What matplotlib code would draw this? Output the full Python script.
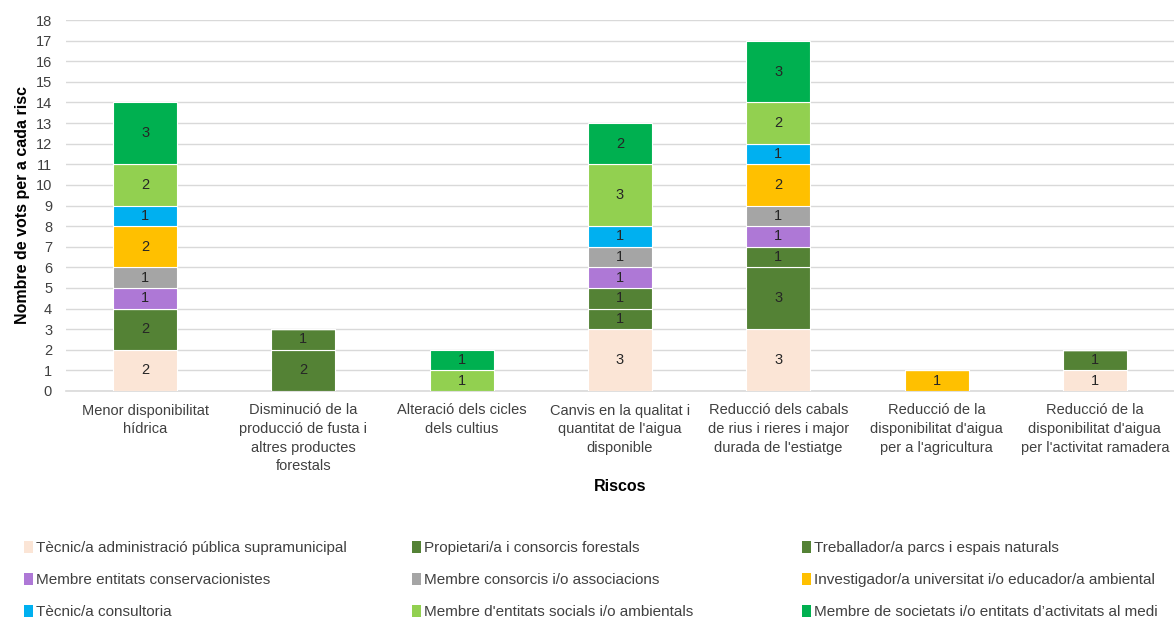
import numpy as np
import matplotlib
matplotlib.use("Agg")
from matplotlib import pyplot as plt
from matplotlib.patches import Patch

plt.rcParams['font.family'] = ['Liberation Sans', 'DejaVu Sans']

# categories (risks)
riscos = ["Menor disponibilitat\nhídrica",
          "Disminució de la\nproducció de fusta i\naltres productes\nforestals",
          "Alteració dels cicles\ndels cultius",
          "Canvis en la qualitat i\nquantitat de l'aigua\ndisponible",
          "Reducció dels cabals\nde rius i rieres i major\ndurada de l'estiatge",
          "Reducció de la\ndisponibilitat d'aigua\nper a l'agricultura",
          "Reducció de la\ndisponibilitat d'aigua\nper l'activitat ramadera"]

# series (stack order bottom -> top)
grups = ["Tècnic/a administració pública supramunicipal",
         "Propietari/a i consorcis forestals",
         "Treballador/a parcs i espais naturals",
         "Membre entitats conservacionistes",
         "Membre consorcis i/o associacions",
         "Investigador/a universitat i/o educador/a ambiental",
         "Tècnic/a consultoria",
         "Membre d'entitats socials i/o ambientals",
         "Membre de societats i/o entitats d\u2019activitats al medi"]

tecnic_adm   = [2, 0, 0, 3, 3, 0, 1]
propietari   = [2, 2, 0, 1, 3, 0, 1]
treballador  = [0, 1, 0, 1, 1, 0, 0]
conservacio  = [1, 0, 0, 1, 1, 0, 0]
consorcis    = [1, 0, 0, 1, 1, 0, 0]
investigador = [2, 0, 0, 0, 2, 1, 0]
consultoria  = [1, 0, 0, 1, 1, 0, 0]
socials      = [2, 0, 1, 3, 2, 0, 0]
societats    = [3, 0, 1, 2, 3, 0, 0]

series = [tecnic_adm, propietari, treballador, conservacio, consorcis,
          investigador, consultoria, socials, societats]
colors = ["#FBE5D6", "#548235", "#548235", "#AE78D6", "#A5A5A5",
          "#FFC000", "#00B0F0", "#92D050", "#00B050"]

fig = plt.figure(figsize=(11.74, 6.21), dpi=100)
ax = fig.add_axes([66/1174, 230/621, 1108/1174, 371/621])

x = np.arange(len(riscos))
bottom = np.zeros(len(riscos))
for vals, col in zip(series, colors):
    vals = np.array(vals, dtype=float)
    bars = ax.bar(x, vals, 0.405, bottom=bottom, color=col,
                  edgecolor='white', linewidth=0.8, zorder=3)
    for b, v, y0 in zip(bars, vals, bottom):
        if v > 0:
            ax.text(b.get_x() + b.get_width()/2, y0 + v/2, "%d" % v,
                    ha='center', va='center', fontsize=10.5, color='#262626',
                    zorder=4)
    bottom += vals

ax.set_xlim(-0.5, len(riscos) - 0.5)
ax.set_ylim(0, 18)
ax.set_yticks(range(0, 19))
ax.yaxis.grid(True, color='#D9D9D9', linewidth=1, zorder=0)
ax.set_axisbelow(True)
for s in ['top', 'right', 'left']:
    ax.spines[s].set_visible(False)
ax.spines['bottom'].set_color('#D9D9D9')
ax.spines['bottom'].set_linewidth(1.2)
ax.tick_params(axis='y', length=0, labelsize=10.5, labelcolor='#404040', pad=10)
ax.tick_params(axis='x', length=0, labelsize=10.5, labelcolor='#404040', pad=9)
ax.set_xticks(x)
ax.set_xticklabels(riscos, linespacing=1.42)

ax.set_ylabel("Nombre de vots per a cada risc", fontsize=11.5,
              fontweight='bold', color='black', labelpad=4)
ax.set_xlabel("Riscos", fontsize=11.5, fontweight='bold', labelpad=4)

# legend: three columns, laid out row by row
col_x = [18/1174, 406/1174, 796/1174]
for c in range(3):
    idx = [c, c + 3, c + 6]
    handles = [Patch(facecolor=colors[i], edgecolor='none') for i in idx]
    labels = [grups[i] for i in idx]
    fig.legend(handles, labels, loc='upper left',
               bbox_to_anchor=(col_x[c], 86/621), frameon=False,
               fontsize=11, handlelength=0.55, handleheight=0.85,
               handletextpad=0.2, labelspacing=1.15, borderaxespad=0,
               labelcolor='#404040')

fig.savefig("out.png", dpi=100)
